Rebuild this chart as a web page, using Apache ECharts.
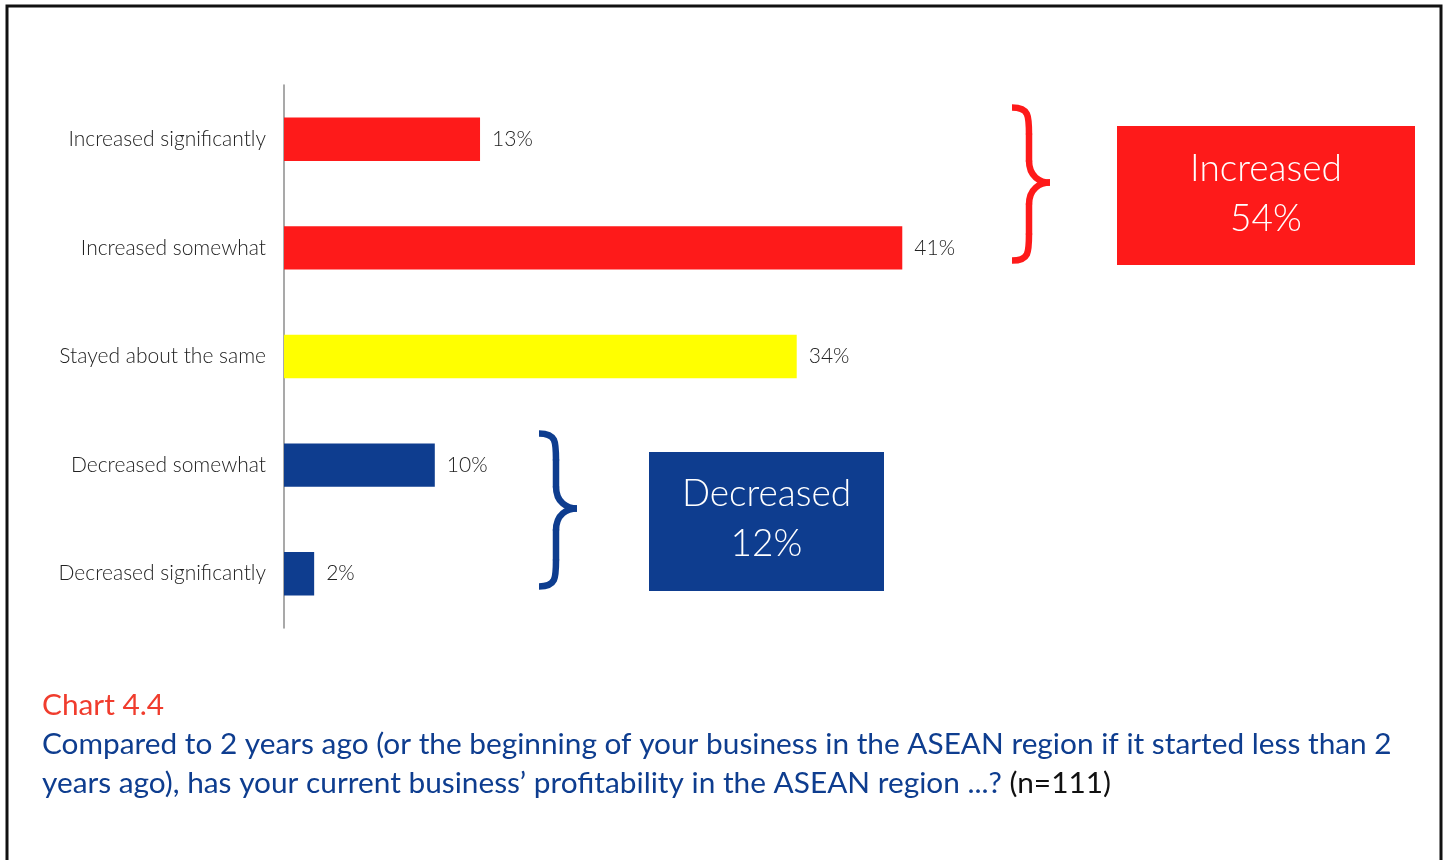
<!DOCTYPE html>
<html>
<head>
<meta charset="utf-8">
<script src="https://cdn.jsdelivr.net/npm/echarts@6/dist/echarts.min.js"></script>
<style>
  html, body { margin: 0; padding: 0; background: #ffffff; }
  #chart { width: 1447px; height: 860px; }
</style>
</head>
<body>
<div id="chart"></div>
<script>
// Survey answers, top to bottom
const categories = [
  'Increased significantly',
  'Increased somewhat',
  'Stayed about the same',
  'Decreased somewhat',
  'Decreased significantly'
];
// Share of respondents, %
const shares = [13, 41, 34, 10, 2];

// Summary groups: which answers add up into each callout box
const groupNames = ['Increased', 'Decreased'];
const groupMembers = [[0, 1], [3, 4]];

const RED = '#fe1a1a';
const YELLOW = '#ffff00';
const BLUE = '#0e3d8f';
const barColors = [RED, RED, YELLOW, BLUE, BLUE];
const groupColors = [RED, BLUE];

const FONT = 'Lato, "Open Sans", sans-serif';

const chart = echarts.init(document.getElementById('chart'), null, { renderer: 'canvas' });

const baseOption = {
  backgroundColor: '#ffffff',
  animation: false,
  grid: { left: 284, top: 85, width: 754, height: 543, containLabel: false },
  xAxis: { type: 'value', min: 0, max: 50, show: false },
  yAxis: {
    type: 'category',
    data: categories,
    inverse: true,
    axisLine: { show: true, lineStyle: { color: '#8c8c8c', width: 1.5 } },
    axisTick: { show: false },
    splitLine: { show: false },
    axisLabel: { fontFamily: FONT, fontWeight: 300, fontSize: 21, color: '#222222', margin: 18 }
  },
  series: [{
    type: 'bar',
    data: shares.map((v, i) => ({ value: v, itemStyle: { color: barColors[i] } })),
    barCategoryGap: '60%',
    label: {
      show: true,
      position: 'right',
      distance: 12,
      formatter: '{c}%',
      fontFamily: FONT,
      fontWeight: 300,
      fontSize: 21,
      color: '#222222'
    }
  }]
};
chart.setOption(baseOption);

// Curly brace built from curve and line pieces: stem at xs, tip pointing right at (xt, ym)
function braceGroup(x0, xs, xt, ytop, ym, ybot, color) {
  const style = { fill: 'none', stroke: color, lineWidth: 6.5, lineCap: 'butt' };
  const curve = (x1, y1, c1x, c1y, c2x, c2y, x2, y2) => ({
    type: 'bezierCurve', silent: true,
    shape: { x1: x1, y1: y1, cpx1: c1x, cpy1: c1y, cpx2: c2x, cpy2: c2y, x2: x2, y2: y2 },
    style: style
  });
  const line = (x1, y1, x2, y2) => ({
    type: 'line', silent: true,
    shape: { x1: x1, y1: y1, x2: x2, y2: y2 },
    style: style
  });
  return {
    type: 'group', silent: true,
    children: [
      curve(x0, ytop, xs, ytop, xs, ytop + 8, xs, ytop + 27),
      line(xs, ytop + 26, xs, ym - 21),
      curve(xs, ym - 22, xs, ym - 6, xt - 10, ym, xt, ym),
      curve(xt, ym, xt - 10, ym, xs, ym + 6, xs, ym + 22),
      line(xs, ym + 21, xs, ybot - 26),
      curve(xs, ybot - 27, xs, ybot - 8, xs, ybot, x0, ybot)
    ]
  };
}

// Horizontal placement of each callout (brace left edge, box left edge, box width)
const calloutLayout = [
  { braceX: 1012, boxX: 1117, boxW: 298 },
  { braceX: 539, boxX: 649, boxW: 235 }
];

const graphics = [];

// Page frame
graphics.push({
  type: 'rect', z: 100, silent: true,
  shape: { x: 7, y: 6, width: 1434, height: 900 },
  style: { fill: 'none', stroke: '#111111', lineWidth: 3 }
});

groupNames.forEach((name, g) => {
  const members = groupMembers[g];
  const total = members.reduce((s, i) => s + shares[i], 0);
  const yFirst = chart.convertToPixel({ yAxisIndex: 0 }, categories[members[0]]);
  const yLast = chart.convertToPixel({ yAxisIndex: 0 }, categories[members[members.length - 1]]);
  const mid = (yFirst + yLast) / 2;
  const lay = calloutLayout[g];
  const tipY = mid - 11;
  graphics.push(braceGroup(lay.braceX, lay.braceX + 17, lay.braceX + 38, tipY - 75, tipY, tipY + 78, groupColors[g]));
  const boxH = 139;
  const boxY = mid - boxH / 2 + 2;
  graphics.push({
    type: 'rect', silent: true,
    shape: { x: lay.boxX, y: boxY, width: lay.boxW, height: boxH },
    style: { fill: groupColors[g] }
  });
  graphics.push({
    type: 'text', silent: true,
    x: lay.boxX + lay.boxW / 2, y: boxY + boxH / 2 - 2,
    style: {
      text: name + '\n' + total + '%',
      fill: '#ffffff',
      font: '300 37px ' + FONT,
      lineHeight: 50,
      align: 'center',
      verticalAlign: 'middle'
    }
  });
});

// Caption under the chart
graphics.push({
  type: 'text', silent: true,
  left: 42, top: 690,
  style: {
    text: '{r|Chart 4.4}\n{b|Compared to 2 years ago (or the beginning of your business in the ASEAN region if it started less than 2}\n{b|years ago), has your current business\u2019 profitability in the ASEAN region ...?\u00a0}{k|(n=111)}',
    rich: {
      r: { fill: '#f03c2d', fontFamily: FONT, fontSize: 29.8, lineHeight: 39 },
      b: { fill: BLUE, fontFamily: FONT, fontSize: 29.8, lineHeight: 39 },
      k: { fill: '#111111', fontFamily: FONT, fontSize: 29.8, lineHeight: 39 }
    }
  }
});

chart.setOption({ graphic: graphics });
</script>
</body>
</html>
